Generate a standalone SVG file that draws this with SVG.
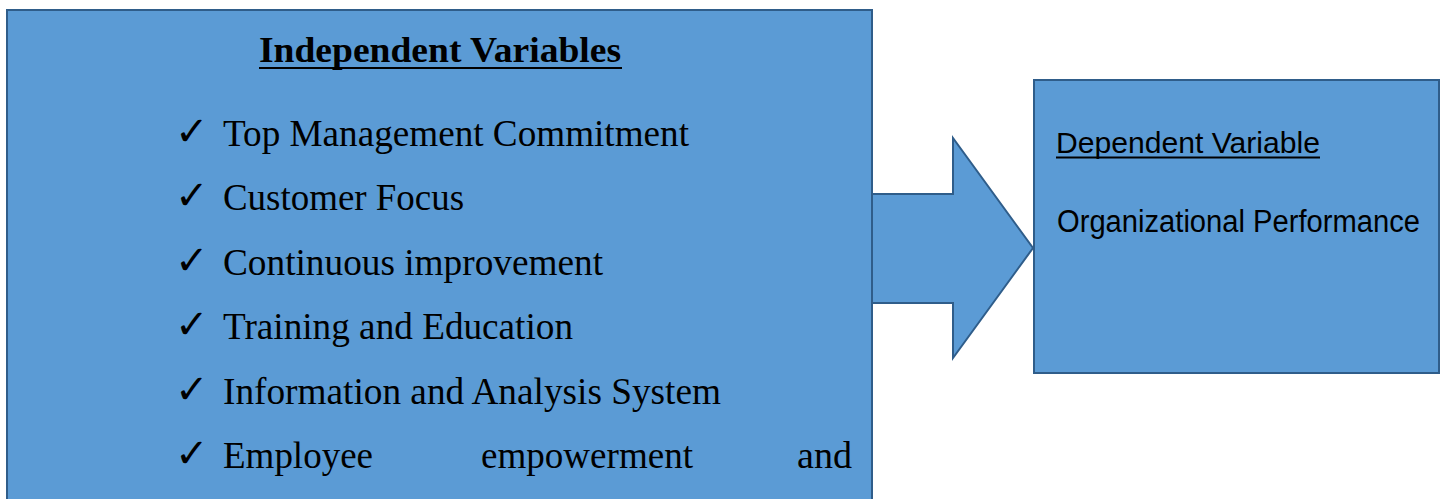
<svg xmlns="http://www.w3.org/2000/svg" width="1443" height="499" viewBox="0 0 1443 499">
  <style>
    .box { fill: #5B9BD5; stroke: #2F5D8A; stroke-width: 2; }
    .serif { font-family: "Liberation Serif", "Times New Roman", serif; fill: #000; }
    .sans { font-family: "Liberation Sans", Arial, sans-serif; fill: #000; }
    .item { font-size: 37px; }
    .tick { font-family: "DejaVu Sans", sans-serif; font-size: 40px; fill: #000; }
  </style>
  <rect width="1443" height="499" fill="#fff"/>

  <!-- Independent variables box -->
  <g id="independent">
    <rect class="box" x="7" y="10" width="865" height="500"/>
    <text class="serif" x="440" y="62" font-size="36" font-weight="bold" text-anchor="middle" textLength="362" lengthAdjust="spacingAndGlyphs">Independent Variables</text>
    <line x1="259" y1="68" x2="622" y2="68" stroke="#000" stroke-width="2"/>
    <g>
      <text class="tick" x="175" y="145">✓</text>
      <text class="serif item" x="223" y="146" textLength="466" lengthAdjust="spacingAndGlyphs">Top Management Commitment</text>
      <text class="tick" x="175" y="209">✓</text>
      <text class="serif item" x="223" y="210" textLength="241" lengthAdjust="spacingAndGlyphs">Customer Focus</text>
      <text class="tick" x="175" y="274">✓</text>
      <text class="serif item" x="223" y="275" textLength="380" lengthAdjust="spacingAndGlyphs">Continuous improvement</text>
      <text class="tick" x="175" y="338">✓</text>
      <text class="serif item" x="223" y="339" textLength="350" lengthAdjust="spacingAndGlyphs">Training and Education</text>
      <text class="tick" x="175" y="403">✓</text>
      <text class="serif item" x="223" y="404" textLength="498" lengthAdjust="spacingAndGlyphs">Information and Analysis System</text>
      <text class="tick" x="175" y="467">✓</text>
      <text class="serif item" x="223" y="468" textLength="150" lengthAdjust="spacingAndGlyphs">Employee</text>
      <text class="serif item" x="481" y="468" textLength="212" lengthAdjust="spacingAndGlyphs">empowerment</text>
      <text class="serif item" x="797" y="468" textLength="55" lengthAdjust="spacingAndGlyphs">and</text>
    </g>
  </g>

  <!-- Block arrow between the boxes -->
  <g id="connectors">
    <path class="box" d="M872 194 H953 V138 L1033 248 L953 358 V303 H872 Z"/>
  </g>

  <!-- Dependent variable box -->
  <g id="dependent">
    <rect class="box" x="1034" y="80" width="405" height="293"/>
    <text class="sans" x="1056" y="153" font-size="30" textLength="264" lengthAdjust="spacingAndGlyphs">Dependent Variable</text>
    <line x1="1056" y1="157.5" x2="1320" y2="157.5" stroke="#000" stroke-width="2"/>
    <text class="sans" x="1057" y="232" font-size="31" textLength="363" lengthAdjust="spacingAndGlyphs">Organizational Performance</text>
  </g>
</svg>
